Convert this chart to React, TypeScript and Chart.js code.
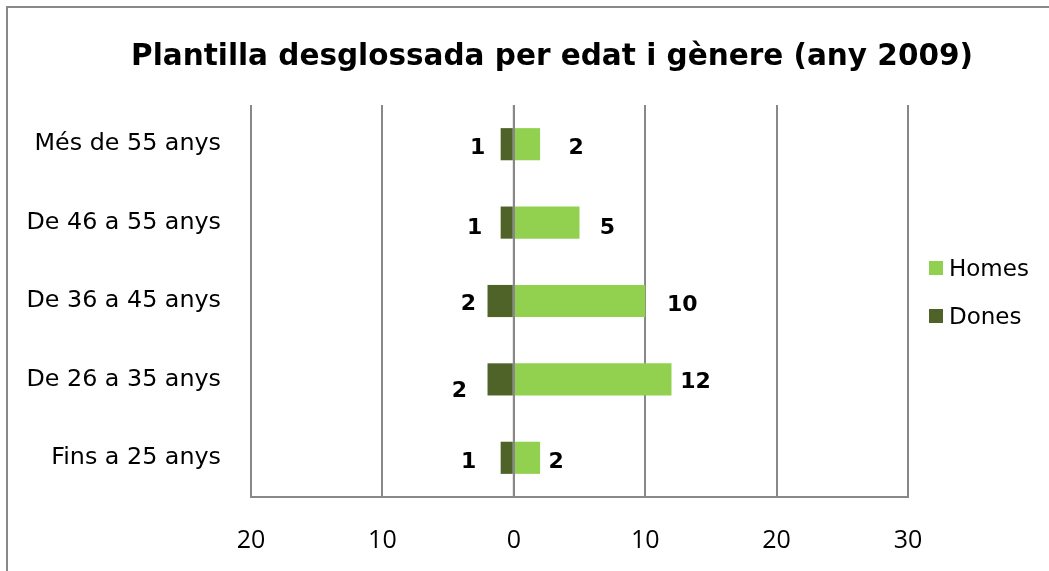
import React, { useEffect, useRef } from "react";
import { Chart, registerables } from "chart.js";

Chart.register(...registerables);

// ---- data ----
const categories = [
  "Més de 55 anys",
  "De 46 a 55 anys",
  "De 36 a 45 anys",
  "De 26 a 35 anys",
  "Fins a 25 anys",
];
const homes = [2, 5, 10, 12, 2];
const dones = [1, 1, 2, 2, 1];
const seriesNames = ["Homes", "Dones"];
const xMin = -20;
const xMax = 30;
const xStep = 10;
const titleText = "Plantilla desglossada per edat i gènere (any 2009)";

// ---- label nudges (px, relative to bar end) ----
const homesLabelDx = [36, 28, 37, 24, 16];
const homesLabelDy = [2, 3, 2, 1, 2];
const donesLabelDx = [-23, -26, -19, -28, -32];
const donesLabelDy = [2, 3, 1, 10, 2];

// ---- styles ----
const homesColor = "#92D050";
const donesColor = "#4F6228";
const gridColor = "#888888";
const W = 1049;
const H = 571;

const decoPlugin = {
  id: "deco",
  beforeDraw(chart: any) {
    const ctx = chart.ctx;
    ctx.save();
    ctx.fillStyle = "#ffffff";
    ctx.fillRect(0, 0, chart.width, chart.height);
    ctx.fillStyle = gridColor;
    ctx.fillRect(6, 6, 2, chart.height - 6);
    ctx.fillRect(6, 6, chart.width - 6, 2);
    ctx.fillStyle = "#000";
    ctx.font = 'bold 29.5px "DejaVu Sans"';
    ctx.textAlign = "center";
    ctx.textBaseline = "alphabetic";
    ctx.fillText(titleText, 552, 65);
    ctx.restore();
  },
  afterDatasetsDraw(chart: any) {
    const { ctx, chartArea, scales } = chart;
    const x0 = scales.x.getPixelForValue(0);
    ctx.save();
    ctx.strokeStyle = gridColor;
    ctx.lineWidth = 2;
    ctx.beginPath();
    ctx.moveTo(x0, chartArea.top);
    ctx.lineTo(x0, chartArea.bottom);
    ctx.stroke();

    ctx.fillStyle = "#000";
    ctx.font = 'bold 22px "DejaVu Sans"';
    ctx.textAlign = "center";
    ctx.textBaseline = "alphabetic";
    const mh = chart.getDatasetMeta(0);
    const md = chart.getDatasetMeta(1);
    mh.data.forEach((el: any, i: number) => {
      ctx.fillText(String(homes[i]), el.x + homesLabelDx[i], el.y + 8 + homesLabelDy[i]);
    });
    md.data.forEach((el: any, i: number) => {
      ctx.fillText(String(dones[i]), el.x + donesLabelDx[i], el.y + 8 + donesLabelDy[i]);
    });

    // legend
    const items = [
      { name: seriesNames[0], color: homesColor, y: 261 },
      { name: seriesNames[1], color: donesColor, y: 309 },
    ];
    ctx.font = '23px "DejaVu Sans"';
    ctx.textAlign = "left";
    items.forEach((it) => {
      ctx.fillStyle = it.color;
      ctx.fillRect(929, it.y, 14, 14);
      ctx.fillStyle = "#000";
      ctx.fillText(it.name, 949, it.y + 15);
    });
    ctx.restore();
  },
};

export default function App() {
  const ref = useRef<HTMLCanvasElement | null>(null);
  useEffect(() => {
    if (!ref.current) return;
    const chart = new Chart(ref.current, {
      type: "bar",
      data: {
        labels: categories,
        datasets: [
          {
            label: seriesNames[0],
            data: homes,
            backgroundColor: homesColor,
            borderWidth: 0,
          },
          {
            label: seriesNames[1],
            data: dones.map((v) => -v),
            backgroundColor: donesColor,
            borderWidth: 0,
          },
        ],
      },
      options: {
        indexAxis: "y",
        responsive: false,
        animation: false,
        layout: { padding: { top: 105, right: 141, bottom: 0, left: 0 } },
        plugins: {
          legend: { display: false },
          title: { display: false },
          tooltip: { enabled: false },
        },
        datasets: {
          bar: { barPercentage: 0.41, categoryPercentage: 1 },
        },
        scales: {
          x: {
            stacked: true,
            min: xMin,
            max: xMax,
            ticks: {
              stepSize: xStep,
              callback: (v: any) => String(Math.abs(Number(v))),
              color: "#000",
              font: { family: "Open Sans", size: 25 },
              padding: 29,
            },
            grid: { color: gridColor, lineWidth: 2, drawTicks: false },
            border: { display: true, color: gridColor, width: 2 },
            afterFit: (s: any) => {
              s.height = 74;
            },
          },
          y: {
            stacked: true,
            ticks: {
              color: "#000",
              font: { family: "DejaVu Sans", size: 23.8 },
              padding: 30,
            },
            grid: { display: false, drawTicks: false },
            border: { display: false },
            afterFit: (s: any) => {
              s.width = 251;
            },
          },
        },
      },
      plugins: [decoPlugin],
    } as any);
    return () => chart.destroy();
  }, []);
  return (
    <div style={{ position: "fixed", left: 0, top: 0, width: W, height: H }}>
      <canvas ref={ref} width={W} height={H} style={{ width: W, height: H, display: "block" }} />
    </div>
  );
}
